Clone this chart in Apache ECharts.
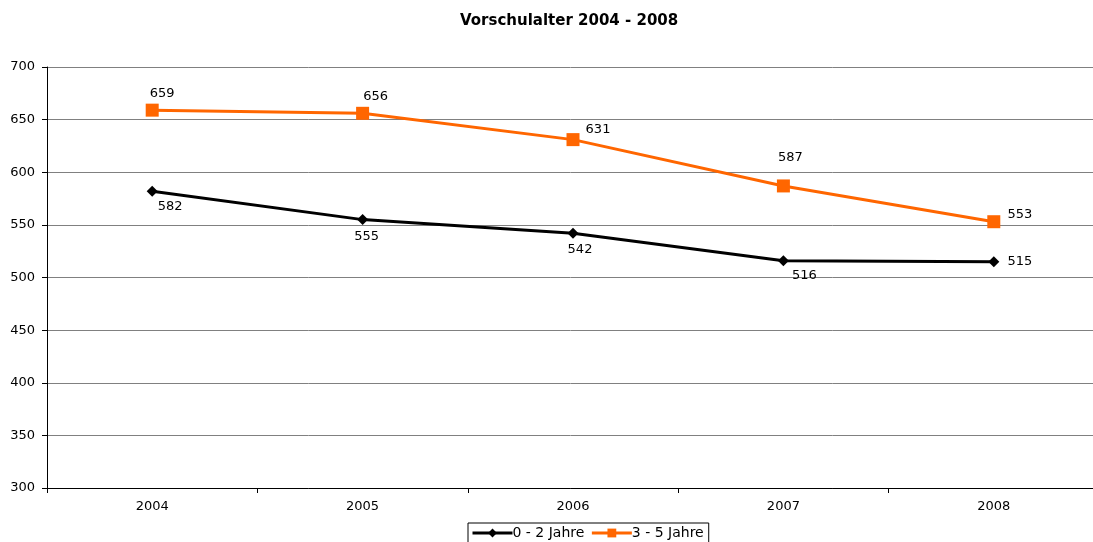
<!DOCTYPE html>
<html>
<head>
<meta charset="utf-8">
<script src="https://cdn.jsdelivr.net/npm/echarts@6/dist/echarts.min.js"></script>
<style>
    html, body { margin: 0; padding: 0; background: #fff; }
    #chart { width: 1093px; height: 542px; }
</style>
</head>
<body>
<div id="chart"></div>
<script>
// Daten
var years = ['2004', '2005', '2006', '2007', '2008'];
var kleinkinder = [582, 555, 542, 516, 515];   // 0 - 2 Jahre
var vorschule = [659, 656, 631, 587, 553];     // 3 - 5 Jahre
var yTicks = [300, 350, 400, 450, 500, 550, 600, 650, 700];

// Label-Versatz je Punkt (wie im Original)
var offsetsBlack = [[18, 15], [4, 17], [7, 16], [21, 15], [26, 0]];
var offsetsOrange = [[10, -17], [13, -17], [25, -10], [7, -28], [26, -7]];

var FONT = 'DejaVu Sans';

function withLabels(values, offsets) {
    return values.map(function (v, i) {
        return {
            value: v,
            label: { position: 'inside', offset: offsets[i] }
        };
    });
}

var myChart = echarts.init(document.getElementById('chart'));
var option = {
    animation: false,
    title: {
        text: 'Vorschulalter 2004 - 2008',
        left: 455,
        top: 9,
        textStyle: {
            fontFamily: FONT,
            fontSize: 15,
            fontWeight: 'bold',
            color: '#000'
        }
    },
    legend: {
        top: 523,
        left: 468,
        itemGap: 6,
        itemWidth: 40,
        itemHeight: 11,
        padding: [3, 5, 4, 3],
        borderColor: '#000',
        borderWidth: 1,
        borderRadius: 0,
        lineStyle: { width: 3 },
        textStyle: {
            fontFamily: FONT,
            fontSize: 14,
            color: '#000',
            padding: [0, 0, 0, -5]
        },
        data: ['0 - 2 Jahre', '3 - 5 Jahre']
    },
    grid: {
        left: 47,
        top: 67,
        width: 1052,
        height: 421,
        outerBoundsMode: 'none'
    },
    xAxis: {
        type: 'category',
        data: years,
        boundaryGap: true,
        axisLine: { lineStyle: { color: '#000', width: 1 } },
        axisTick: { show: true, length: 5, lineStyle: { color: '#000' } },
        axisLabel: {
            fontFamily: FONT,
            fontSize: 13,
            color: '#000',
            margin: 12
        }
    },
    yAxis: {
        type: 'value',
        min: yTicks[0],
        max: yTicks[yTicks.length - 1],
        interval: 50,
        axisLine: { show: true, lineStyle: { color: '#000', width: 1 } },
        axisTick: { show: true, length: 5, lineStyle: { color: '#000' } },
        axisLabel: {
            fontFamily: FONT,
            fontSize: 13,
            color: '#000',
            margin: 12
        },
        splitLine: { lineStyle: { color: '#808080', width: 1 } }
    },
    series: [
        {
            name: '0 - 2 Jahre',
            type: 'line',
            data: withLabels(kleinkinder, offsetsBlack),
            color: '#000',
            lineStyle: { width: 3, color: '#000' },
            symbol: 'diamond',
            symbolSize: 11,
            itemStyle: { color: '#000' },
            label: {
                show: true,
                fontFamily: FONT,
                fontSize: 13,
                color: '#000'
            }
        },
        {
            name: '3 - 5 Jahre',
            type: 'line',
            data: withLabels(vorschule, offsetsOrange),
            color: '#FF6600',
            lineStyle: { width: 3, color: '#FF6600' },
            symbol: 'rect',
            symbolSize: 13,
            itemStyle: { color: '#FF6600' },
            label: {
                show: true,
                fontFamily: FONT,
                fontSize: 13,
                color: '#000'
            }
        }
    ]
};
myChart.setOption(option);
</script>
</body>
</html>
